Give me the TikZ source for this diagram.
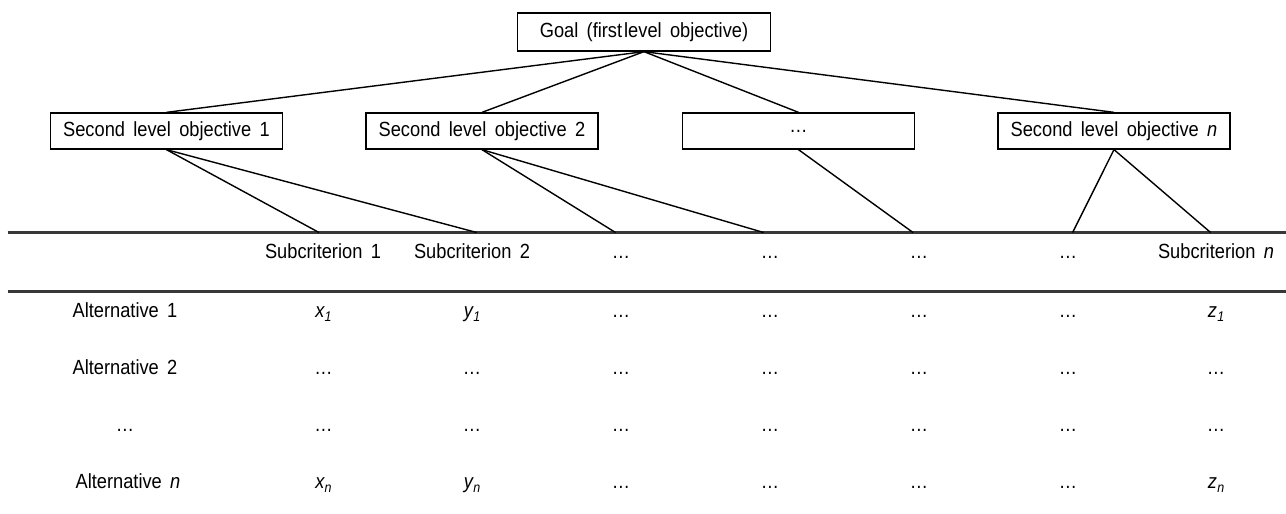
\documentclass[tikz,border=0pt]{standalone}
\usepackage{fontspec}
\setmainfont{Liberation Sans}[WordSpace=1.65, FakeStretch=0.89]
\newcommand{\fs}{\fontsize{20.5}{24}\selectfont}
\newcommand{\sv}[2]{{\itshape #1\kern0.3pt\raisebox{-0.45ex}{\fontsize{14}{15}\selectfont #2}}}
\begin{document}
\begin{tikzpicture}[x=1pt,y=-1pt,
  box/.style={draw, line width=1.3pt, minimum width=232pt, minimum height=36pt, inner sep=0pt, font=\fs},
  link/.style={line width=1.4pt},
  rule/.style={line width=2.2pt, draw=black!78},
  cell/.style={anchor=base, inner sep=0pt, font=\fs}]
\useasboundingbox (0,0) rectangle (1286,514);
% hierarchy boxes
\node[box, minimum width=253pt, minimum height=38pt] (goal) at (644,32) {Goal (first\hspace{2pt}level objective)};
\node[box] (s1) at (166.5,131) {Second level objective 1};
\node[box] (s2) at (482,131) {Second level objective 2};
\node[box] (s3) at (798.5,131) {\dots};
\node[box] (s4) at (1114,131) {Second level objective \textit{n}};
% table rules
\coordinate (r1a) at (7.5,232.5);
\coordinate (r1b) at (1286,232.5);
\coordinate (r2a) at (7.5,291.5);
\coordinate (r2b) at (1286,291.5);
\draw[rule] (r1a) -- (r1b);
\draw[rule] (r2a) -- (r2b);
% end points on top rule
\coordinate (c1) at (319,232.5);
\coordinate (c2) at (476.7,232.5);
\coordinate (c3) at (615.5,232.5);
\coordinate (c4) at (763.6,232.5);
\coordinate (c5) at (913,232.5);
\coordinate (c6) at (1072.6,232.5);
\coordinate (c7) at (1210.6,232.5);
% connectors
\draw[link] (goal.south) -- (s1.north);
\draw[link] (goal.south) -- (s2.north);
\draw[link] (goal.south) -- (s3.north);
\draw[link] (goal.south) -- (s4.north);
\draw[link] (s1.south) -- (c1);
\draw[link] (s1.south) -- (c2);
\draw[link] (s2.south) -- (c3);
\draw[link] (s2.south) -- (c4);
\draw[link] (s3.south) -- (c5);
\draw[link] (s4.south) -- (c6);
\draw[link] (s4.south) -- (c7);
% header row
\node[cell] (h1) at (323,258) {Subcriterion 1};
\node[cell] (h2) at (472,258) {Subcriterion 2};
\node[cell] (h3) at (621,258) {\dots};
\node[cell] (h4) at (770,258) {\dots};
\node[cell] (h5) at (919,258) {\dots};
\node[cell] (h6) at (1068,258) {\dots};
\node[cell] (h7) at (1216,258) {Subcriterion \textit{n}};
% row labels
\node[cell] (a1) at (125,317) {Alternative 1};
\node[cell] (a2) at (125,374) {Alternative 2};
\node[cell] (a3) at (125,431) {\dots};
\node[cell] (a4) at (128,488) {Alternative \textit{n}};
% row 1
\node[cell] (v11) at (323.5,317) {\sv{x}{1}};
\node[cell] (v12) at (472,317) {\sv{y}{1}};
\node[cell] (v13) at (621,317) {\dots};
\node[cell] (v14) at (770,317) {\dots};
\node[cell] (v15) at (919,317) {\dots};
\node[cell] (v16) at (1068,317) {\dots};
\node[cell] (v17) at (1216,317) {\sv{z}{1}};
% row 2
\foreach \c/\xx in {1/323.5,2/472,3/621,4/770,5/919,6/1068,7/1216}
  \node[cell] (v2\c) at (\xx,374) {\dots};
% row 3
\foreach \c/\xx in {1/323.5,2/472,3/621,4/770,5/919,6/1068,7/1216}
  \node[cell] (v3\c) at (\xx,431) {\dots};
% row n
\node[cell] (v41) at (323.5,488) {\sv{x}{n}};
\node[cell] (v42) at (472,488) {\sv{y}{n}};
\node[cell] (v43) at (621,488) {\dots};
\node[cell] (v44) at (770,488) {\dots};
\node[cell] (v45) at (919,488) {\dots};
\node[cell] (v46) at (1068,488) {\dots};
\node[cell] (v47) at (1216,488) {\sv{z}{n}};
\end{tikzpicture}
\end{document}
